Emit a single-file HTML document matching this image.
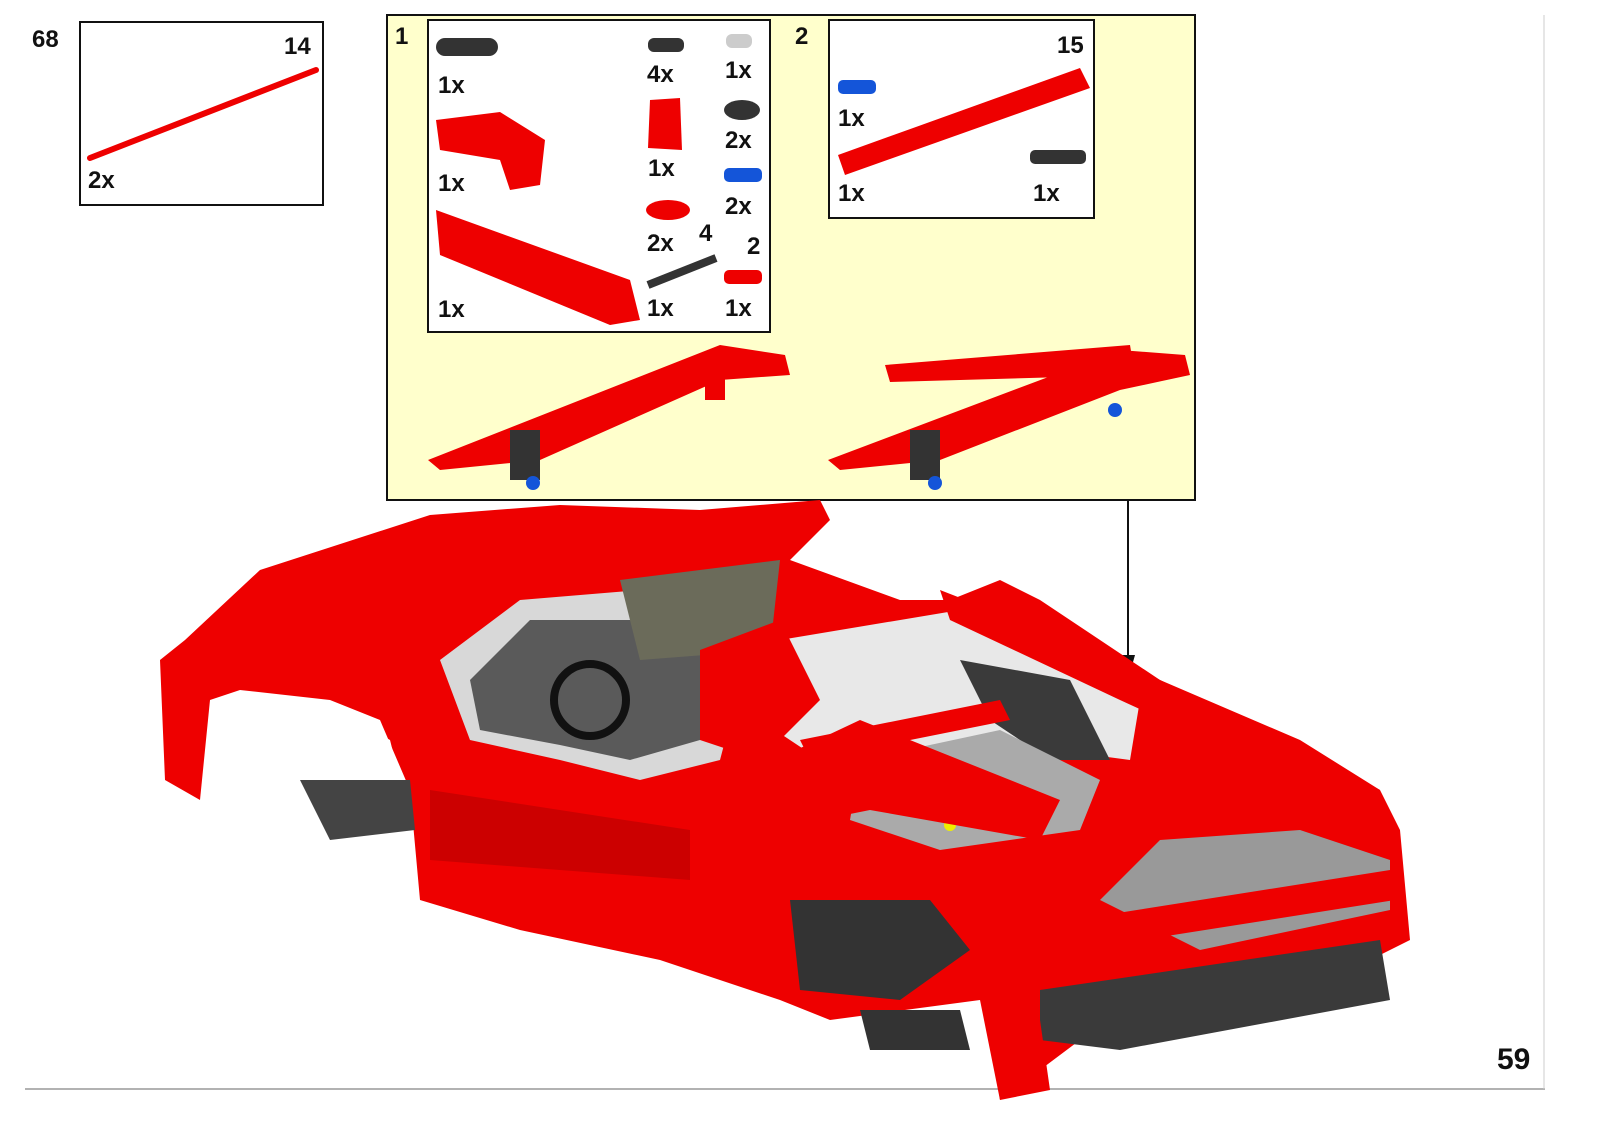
<!DOCTYPE html>
<html><head><meta charset="utf-8"><style>
body{margin:0;width:1600px;height:1131px;background:#fff;position:relative;overflow:hidden;font-family:"Liberation Sans",Arial,sans-serif}
.t{position:absolute;font-weight:bold;font-size:24px;color:#111}
</style></head><body>
<svg width="1600" height="1131" style="position:absolute;left:0;top:0">
<line x1="25" y1="1089" x2="1545" y2="1089" stroke="#999" stroke-width="1.5"/>
<line x1="1544" y1="15" x2="1544" y2="1089" stroke="#ccc" stroke-width="1"/>
<rect x="387" y="15" width="808" height="485" fill="#ffffcc" stroke="#111" stroke-width="2"/>
<rect x="428" y="20" width="342" height="312" fill="#fff" stroke="#111" stroke-width="2"/>
<rect x="829" y="20" width="265" height="198" fill="#fff" stroke="#111" stroke-width="2"/>
<rect x="80" y="22" width="243" height="183" fill="#fff" stroke="#111" stroke-width="2"/>
<line x1="90" y1="158" x2="316" y2="70" stroke="#e00" stroke-width="6" stroke-linecap="round"/>
<rect x="436" y="38" width="62" height="18" rx="9" fill="#333"/>
<polygon points="436,120 500,112 545,140 540,185 510,190 500,160 440,150" fill="#e00"/>
<polygon points="436,210 630,280 640,320 610,325 440,255" fill="#e00"/>
<rect x="648" y="38" width="36" height="14" rx="6" fill="#333"/>
<rect x="726" y="34" width="26" height="14" rx="6" fill="#ccc"/>
<polygon points="650,100 680,98 682,150 648,148" fill="#e00"/>
<ellipse cx="742" cy="110" rx="18" ry="10" fill="#333"/>
<rect x="724" y="168" width="38" height="14" rx="5" fill="#1455d9"/>
<ellipse cx="668" cy="210" rx="22" ry="10" fill="#e00"/>
<line x1="648" y1="285" x2="716" y2="258" stroke="#333" stroke-width="8"/>
<rect x="724" y="270" width="38" height="14" rx="5" fill="#e00"/>
<rect x="838" y="80" width="38" height="14" rx="5" fill="#1455d9"/>
<polygon points="838,155 1080,68 1090,88 845,175" fill="#e00"/>
<rect x="1030" y="150" width="56" height="14" rx="5" fill="#333"/>
<polygon points="428,460 720,345 785,355 790,375 720,380 540,460 440,470" fill="#e00"/>
<rect x="510" y="430" width="30" height="50" fill="#333"/>
<circle cx="533" cy="483" r="7" fill="#1455d9"/>
<rect x="705" y="365" width="20" height="35" fill="#e00"/>
<polygon points="828,460 1120,350 1185,355 1190,375 1120,390 940,460 840,470" fill="#e00"/>
<polygon points="885,365 1130,345 1135,375 890,382" fill="#e00"/>
<rect x="910" y="430" width="30" height="50" fill="#333"/>
<circle cx="935" cy="483" r="7" fill="#1455d9"/>
<circle cx="1115" cy="410" r="7" fill="#1455d9"/>
<line x1="1128" y1="500" x2="1128" y2="668" stroke="#111" stroke-width="2"/>
<polygon points="1121,655 1135,655 1128,680" fill="#111"/>
<g>
<!-- main body -->
<polygon points="185,640 260,570 430,515 560,505 700,510 820,500 830,520 790,560 900,600 950,600 1000,580 1040,600 1160,680 1300,740 1380,790 1400,830 1410,940 1370,960 1120,1010 1000,1100 980,1000 830,1020 780,1000 660,960 520,930 420,900 410,790 380,720 330,700 240,690 210,700 200,800 165,780 160,660" fill="#e00"/>
<!-- wheel arch gap -->
<polygon points="220,700 330,705 390,740 405,800 330,820 300,780 220,770" fill="#fff"/>
<polygon points="300,780 410,780 415,830 330,840" fill="#444"/>
<!-- cockpit -->
<polygon points="440,660 520,600 640,590 720,610 745,665 720,760 640,780 560,760 470,740" fill="#d8d8d8"/>
<polygon points="470,680 530,620 640,620 710,640 700,740 630,760 560,745 480,730" fill="#5a5a5a"/>
<polygon points="620,580 780,560 770,650 640,660" fill="#6b6b5a"/>
<circle cx="590" cy="700" r="36" fill="none" stroke="#111" stroke-width="8"/>
<!-- red side panel -->
<polygon points="420,730 700,800 700,880 420,850" fill="#e00"/>
<polygon points="430,790 690,830 690,880 430,860" fill="#c00"/>
<!-- engine bay -->
<polygon points="780,640 960,610 1060,640 1140,700 1130,760 980,740 820,760 760,720" fill="#e8e8e8"/>
<polygon points="960,660 1070,680 1110,760 1050,760 990,720" fill="#3a3a3a"/>
<polygon points="860,760 1000,730 1100,780 1080,830 940,850 850,820" fill="#aaa"/>
<circle cx="895" cy="795" r="6" fill="#ee0"/><circle cx="925" cy="812" r="6" fill="#ee0"/><circle cx="950" cy="825" r="6" fill="#ee0"/>
<polygon points="700,650 780,620 820,700 760,760 700,740" fill="#e00"/>
<polygon points="690,800 860,720 1060,800 1040,840 870,810 720,840" fill="#e00"/>
<polygon points="940,590 1120,660 1380,790 1370,815 1120,700 950,620" fill="#e00"/>
<polygon points="800,740 1000,700 1010,720 810,760" fill="#e00"/>
<!-- rear -->
<polygon points="1160,840 1300,830 1390,860 1390,910 1200,950 1100,900" fill="#999"/>
<polygon points="1010,930 1390,870 1395,900 1015,960" fill="#e00"/>
<polygon points="790,900 930,900 970,950 900,1000 800,990" fill="#333"/>
<polygon points="1040,990 1380,940 1390,1000 1120,1050 1040,1040" fill="#3a3a3a"/>
<polygon points="860,1010 960,1010 970,1050 870,1050" fill="#333"/>
<polygon points="980,960 1030,950 1050,1090 1000,1100" fill="#e00"/>
</g>
</svg>
<div class="t" style="left:32px;top:26px">68</div>
<div class="t" style="left:284px;top:33px">14</div>
<div class="t" style="left:88px;top:167px">2x</div>
<div class="t" style="left:395px;top:23px">1</div>
<div class="t" style="left:795px;top:23px">2</div>
<div class="t" style="left:438px;top:72px">1x</div>
<div class="t" style="left:438px;top:170px">1x</div>
<div class="t" style="left:438px;top:296px">1x</div>
<div class="t" style="left:647px;top:61px">4x</div>
<div class="t" style="left:725px;top:57px">1x</div>
<div class="t" style="left:725px;top:127px">2x</div>
<div class="t" style="left:648px;top:155px">1x</div>
<div class="t" style="left:725px;top:193px">2x</div>
<div class="t" style="left:647px;top:230px">2x</div>
<div class="t" style="left:699px;top:220px">4</div>
<div class="t" style="left:747px;top:233px">2</div>
<div class="t" style="left:647px;top:295px">1x</div>
<div class="t" style="left:725px;top:295px">1x</div>
<div class="t" style="left:1057px;top:32px">15</div>
<div class="t" style="left:838px;top:105px">1x</div>
<div class="t" style="left:838px;top:180px">1x</div>
<div class="t" style="left:1033px;top:180px">1x</div>
<div class="t" style="left:1497px;top:1043px;font-size:30px">59</div>
</body></html>
